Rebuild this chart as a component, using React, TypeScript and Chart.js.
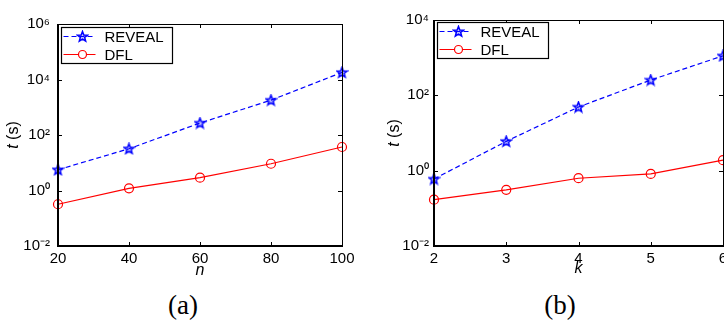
import React, { useEffect, useRef } from 'react';
import { Chart, registerables } from 'chart.js';
Chart.register(...registerables);

// ---- data ----
const nValues = [20, 40, 60, 80, 100];
const revealByN = [5.6, 32, 270, 1800, 18000];
const dflByN = [0.32, 1.2, 2.9, 9.2, 37];
const kValues = [2, 3, 4, 5, 6];
const revealByK = [0.6, 6.0, 49, 255, 1120];
const dflByK = [0.17, 0.31, 0.63, 0.82, 1.9];
const yTicksA = [1e-2, 1, 1e2, 1e4, 1e6];
const yTicksB = [1e-2, 1, 1e2, 1e4];
const xTicksA = [20, 40, 60, 80, 100];
const xTicksB = [2, 3, 4, 5, 6];
const seriesNames = ['REVEAL', 'DFL'];
const xTitles = ['n', 'k'];
const captions = ['(a)', '(b)'];

const BLUE = '#0000ff';
const RED = '#ff0000';
const FONT = '"Liberation Sans", Arial, sans-serif';

const SUP: Record<string, string> = {
  '-': '\u207B', '0': '\u2070', '1': '\u00B9', '2': '\u00B2', '3': '\u00B3',
  '4': '\u2074', '5': '\u2075', '6': '\u2076', '7': '\u2077', '8': '\u2078', '9': '\u2079',
};
const powLabel = (v: number) => {
  const e = Math.round(Math.log10(v));
  return '10' + String(e).split('').map((c) => SUP[c] || c).join('');
};

function makeStar(): HTMLCanvasElement {
  const c = document.createElement('canvas');
  c.width = 13;
  c.height = 13;
  const ctx = c.getContext('2d')!;
  const R = 5.4, r = 2.3, cx = 6.5, cy = 6.8;
  ctx.beginPath();
  for (let i = 0; i < 10; i++) {
    const rad = i % 2 === 0 ? R : r;
    const a = -Math.PI / 2 + (i * Math.PI) / 5;
    const x = cx + rad * Math.cos(a);
    const y = cy + rad * Math.sin(a);
    if (i === 0) ctx.moveTo(x, y);
    else ctx.lineTo(x, y);
  }
  ctx.closePath();
  ctx.fillStyle = 'rgba(0,0,255,0.25)';
  ctx.fill();
  ctx.strokeStyle = BLUE;
  ctx.lineWidth = 1.5;
  ctx.stroke();
  return c;
}

const framePlugin = {
  id: 'matlabFrame',
  afterDatasetsDraw(chart: any, _args: any, opts: any) {
    const ctx = chart.ctx;
    const ca = chart.chartArea;
    const xs = chart.scales.x;
    const ys = chart.scales.y;
    ctx.save();
    ctx.strokeStyle = '#000';
    // inward ticks
    ctx.lineWidth = 1;
    ctx.beginPath();
    xs.ticks.forEach((t: any) => {
      const px = Math.round(xs.getPixelForValue(t.value)) + 0.5;
      ctx.moveTo(px, ca.bottom);
      ctx.lineTo(px, ca.bottom - 4);
      ctx.moveTo(px, ca.top);
      ctx.lineTo(px, ca.top + 4);
    });
    ys.ticks.forEach((t: any) => {
      const py = Math.round(ys.getPixelForValue(t.value)) + 0.5;
      ctx.moveTo(ca.left, py);
      ctx.lineTo(ca.left + 4, py);
      ctx.moveTo(ca.right, py);
      ctx.lineTo(ca.right - 4, py);
    });
    ctx.stroke();
    // top & right thin
    ctx.beginPath();
    ctx.moveTo(ca.left, ca.top + 0.5);
    ctx.lineTo(ca.right + 0.5, ca.top + 0.5);
    ctx.lineTo(ca.right + 0.5, ca.bottom);
    ctx.stroke();
    // left & bottom thicker
    ctx.lineWidth = 2;
    ctx.beginPath();
    ctx.moveTo(ca.left, ca.top);
    ctx.lineTo(ca.left, ca.bottom);
    ctx.lineTo(ca.right + 1, ca.bottom);
    ctx.stroke();

    // legend
    const bx = Math.round(ca.left) + 3.5;
    const by = Math.round(ca.top) + opts.legendDy + 0.5;
    const bw = 111, bh = 36;
    ctx.fillStyle = '#fff';
    ctx.fillRect(bx, by, bw, bh);
    ctx.lineWidth = 1.2;
    ctx.strokeStyle = '#000';
    ctx.strokeRect(bx, by, bw, bh);
    chart.data.datasets.forEach((ds: any, i: number) => {
      const ry = by + 9 + i * 18;
      ctx.strokeStyle = ds.borderColor;
      ctx.lineWidth = 1.2;
      ctx.setLineDash(ds.borderDash || []);
      ctx.beginPath();
      ctx.moveTo(bx + 2, ry);
      ctx.lineTo(bx + 34, ry);
      ctx.stroke();
      ctx.setLineDash([]);
      if (ds.pointStyle instanceof HTMLCanvasElement) {
        ctx.drawImage(ds.pointStyle, bx + 21 - ds.pointStyle.width / 2, ry - ds.pointStyle.height / 2);
      } else {
        ctx.fillStyle = '#fff';
        ctx.beginPath();
        ctx.arc(bx + 21, ry, 4, 0, Math.PI * 2);
        ctx.fill();
        ctx.stroke();
      }
      ctx.fillStyle = '#000';
      ctx.font = '15px ' + FONT;
      ctx.textBaseline = 'middle';
      ctx.textAlign = 'left';
      ctx.fillText(ds.label, bx + 43, ry + 1);
    });

    // axis titles
    ctx.fillStyle = '#000';
    ctx.textBaseline = 'alphabetic';
    ctx.textAlign = 'center';
    ctx.font = 'italic 16px ' + FONT;
    ctx.fillText(opts.xTitle, (ca.left + ca.right) / 2, opts.xTitleY);
    // y title: italic t + upright (s)
    ctx.translate(opts.yTitleX, (ca.top + ca.bottom) / 2);
    ctx.rotate(-Math.PI / 2);
    ctx.textBaseline = 'middle';
    ctx.textAlign = 'left';
    ctx.font = 'italic 16px ' + FONT;
    const w1 = ctx.measureText('t').width;
    ctx.font = '16px ' + FONT;
    const w2 = ctx.measureText(' (s)').width;
    const start = -(w1 + w2) / 2;
    ctx.font = 'italic 16px ' + FONT;
    ctx.fillText('t', start, 0);
    ctx.font = '16px ' + FONT;
    ctx.fillText(' (s)', start + w1, 0);
    ctx.restore();
  },
};

function buildConfig(
  xs: number[], reveal: number[], dfl: number[], xTicks: number[], yTicks: number[],
  p: { yWidth: number; yPad: number; padTop: number; padRight: number; xTitle: string; xTitleY: number; yTitleX: number; legendDy: number },
  star: HTMLCanvasElement
): any {
  return {
    type: 'line',
    data: {
      datasets: [
        {
          label: seriesNames[0],
          data: xs.map((x, i) => ({ x, y: reveal[i] })),
          borderColor: BLUE,
          borderWidth: 1.2,
          borderDash: [5, 3],
          pointStyle: star,
          pointRadius: 5,
          pointHoverRadius: 5,
          backgroundColor: BLUE,
          fill: false,
          tension: 0,
          clip: false,
        },
        {
          label: seriesNames[1],
          data: xs.map((x, i) => ({ x, y: dfl[i] })),
          borderColor: RED,
          borderWidth: 1.2,
          pointStyle: 'circle',
          pointRadius: 4.5,
          pointHoverRadius: 4.5,
          pointBorderWidth: 1.2,
          pointBackgroundColor: 'rgba(0,0,0,0)',
          backgroundColor: RED,
          fill: false,
          tension: 0,
          clip: false,
        },
      ],
    },
    options: {
      animation: false,
      responsive: false,
      events: [],
      layout: { padding: { left: 0, top: p.padTop, right: p.padRight, bottom: 0 } },
      plugins: {
        legend: { display: false },
        tooltip: { enabled: false },
        title: { display: false },
        matlabFrame: { xTitle: p.xTitle, xTitleY: p.xTitleY, yTitleX: p.yTitleX, legendDy: p.legendDy },
      },
      scales: {
        x: {
          type: 'linear',
          min: xTicks[0],
          max: xTicks[xTicks.length - 1],
          grid: { display: false, drawTicks: false },
          border: { display: false },
          afterBuildTicks: (s: any) => { s.ticks = xTicks.map((v) => ({ value: v })); },
          afterFit: (s: any) => { s.height = 34; s.paddingLeft = 0; s.paddingRight = 0; },
          ticks: {
            padding: 4,
            maxRotation: 0,
            autoSkip: false,
            color: '#000',
            font: { family: FONT, size: 15 },
            callback: (v: any) => String(v),
          },
        },
        y: {
          type: 'logarithmic',
          min: yTicks[0],
          max: yTicks[yTicks.length - 1],
          grid: { display: false, drawTicks: false },
          border: { display: false },
          afterBuildTicks: (s: any) => { s.ticks = yTicks.map((v) => ({ value: v })); },
          afterFit: (s: any) => { s.width = p.yWidth; s.paddingTop = 0; s.paddingBottom = 0; },
          ticks: {
            padding: p.yPad,
            autoSkip: false,
            color: '#000',
            font: { family: FONT, size: 15 },
            callback: (v: any) => powLabel(Number(v)),
          },
        },
      },
    },
    plugins: [framePlugin],
  };
}

export default function App() {
  const refA = useRef<HTMLCanvasElement>(null);
  const refB = useRef<HTMLCanvasElement>(null);
  useEffect(() => {
    const star = makeStar();
    const a = new Chart(refA.current!, buildConfig(nValues, revealByN, dflByN, xTicksA, yTicksA,
      { yWidth: 58, yPad: 8, padTop: 24, padRight: 20, xTitle: xTitles[0], xTitleY: 275, yTitleX: 14, legendDy: 3 }, star));
    const b = new Chart(refB.current!, buildConfig(kValues, revealByK, dflByK, xTicksB, yTicksB,
      { yWidth: 72, yPad: 5, padTop: 20, padRight: 19, xTitle: xTitles[1], xTitleY: 273, yTitleX: 33, legendDy: 2 }, star));
    return () => { a.destroy(); b.destroy(); };
  }, []);
  const capStyle = (left: number): React.CSSProperties => ({
    position: 'absolute', left: left - 50, width: 100, top: 292, textAlign: 'center',
    fontFamily: '"Liberation Serif", "Times New Roman", serif', fontSize: 27, lineHeight: '27px', color: '#000',
  });
  return (
    <div style={{ position: 'fixed', left: 0, top: 0, width: 724, height: 320, overflow: 'hidden', background: '#fff' }}>
      <canvas ref={refA} width={362} height={280} style={{ position: 'absolute', left: 0, top: 0, width: 362, height: 280 }} />
      <canvas ref={refB} width={380} height={280} style={{ position: 'absolute', left: 362, top: 0, width: 380, height: 280 }} />
      <div style={capStyle(183)}>{captions[0]}</div>
      <div style={capStyle(560)}>{captions[1]}</div>
    </div>
  );
}
